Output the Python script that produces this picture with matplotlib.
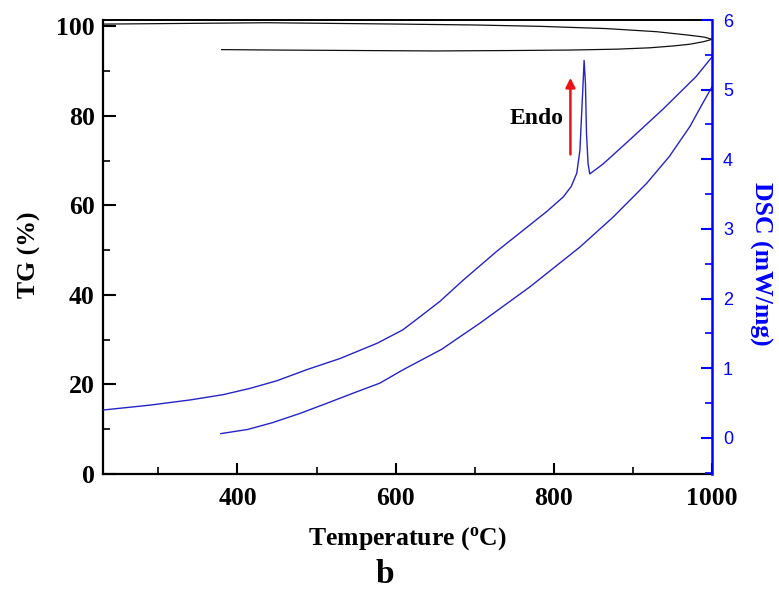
import matplotlib
matplotlib.use("Agg")
import matplotlib.pyplot as plt
from matplotlib.ticker import MultipleLocator

# ---------- data ----------
# TG, heating run (%)
tg_heat_t = [230, 300, 438, 605, 700, 782, 866, 930, 972, 990, 1000]
tg_heat_v = [100.5, 100.6, 100.8, 100.5, 100.3, 100.0, 99.5, 98.8, 98.0, 97.6, 97.1]
# TG, cooling run (%)
tg_cool_t = [1000, 990, 972, 950, 921, 880, 820, 750, 650, 550, 450, 380]
tg_cool_v = [97.1, 96.6, 96.0, 95.6, 95.2, 94.9, 94.7, 94.6, 94.5, 94.6, 94.7, 94.8]

# DSC, heating run (mW/mg)
dsc_heat_t = [231, 290, 341, 382, 416, 450, 488, 530, 577, 609, 631, 656, 686,
              728, 770, 791, 812, 822, 829, 833, 835, 837, 838.3, 840, 841.3, 843.3, 845.4,
              862, 896, 938, 980, 1000]
dsc_heat_v = [0.40, 0.47, 0.545, 0.62, 0.71, 0.82, 0.98, 1.14, 1.36, 1.55, 1.74, 1.96, 2.27,
              2.68, 3.06, 3.25, 3.46, 3.61, 3.80, 4.13, 4.61, 5.09, 5.42, 5.09, 4.37, 3.94, 3.79,
              3.93, 4.28, 4.72, 5.19, 5.47]
# DSC, cooling run (mW/mg)
dsc_cool_t = [1000, 988, 972, 946, 917, 875, 833, 770, 707, 658, 609, 580, 546,
              514, 479, 445, 413, 379]
dsc_cool_v = [5.04, 4.80, 4.47, 4.04, 3.65, 3.17, 2.74, 2.17, 1.65, 1.27, 0.975, 0.785, 0.64,
              0.50, 0.35, 0.22, 0.12, 0.06]

x_ticks = [400, 600, 800, 1000]
tg_ticks = [0, 20, 40, 60, 80, 100]
dsc_ticks = [0, 1, 2, 3, 4, 5, 6]

# ---------- style ----------
SERIF = ["Liberation Serif", "DejaVu Serif"]
SANS = ["Liberation Sans", "DejaVu Sans"]
BLUE = "#0000ff"
LINE_BLUE = "#2424c8"

fig = plt.figure(figsize=(7.79, 5.90), dpi=100)
ax = fig.add_axes([0.1322, 0.1966, 0.914 - 0.1322, 0.966 - 0.1966])

ax.plot(tg_heat_t, tg_heat_v, color="#111111", lw=0.9)
ax.plot(tg_cool_t, tg_cool_v, color="#111111", lw=0.9)

ax.set_xlim(230, 1000)
ax.set_ylim(0, 101.4)
ax.set_xticks(x_ticks)
ax.set_yticks(tg_ticks)
ax.xaxis.set_minor_locator(MultipleLocator(100))
ax.yaxis.set_minor_locator(MultipleLocator(10))
ax.tick_params(which="major", direction="in", length=8, width=1.5, top=False, right=False)
ax.tick_params(which="minor", direction="in", length=5, width=1.2, top=False, right=False)
ax.tick_params(axis="y", which="major", length=9)
for lab in ax.get_xticklabels() + ax.get_yticklabels():
    lab.set_family(SERIF)
    lab.set_fontweight("bold")
    lab.set_fontsize(18.5)
ax.tick_params(axis="x", pad=9)
ax.tick_params(axis="y", pad=6)
for s in ["left", "bottom"]:
    ax.spines[s].set_linewidth(1.6)
ax.spines["top"].set_linewidth(1.4)
ax.spines["right"].set_visible(False)

ax.set_xlabel("Temperature ($\\mathregular{^o}$C)", family=SERIF, fontweight="bold",
              fontsize=18.5, labelpad=11)
ax.set_ylabel("TG (%)", family=SERIF, fontweight="bold", fontsize=18.5,
              ha="center", va="center")
ax.yaxis.set_label_coords(-0.12, 0.482)

# DSC on the right axis
ax2 = ax.twinx()
ax2.plot(dsc_heat_t, dsc_heat_v, color=LINE_BLUE, lw=1.0)
ax2.plot(dsc_cool_t, dsc_cool_v, color=LINE_BLUE, lw=1.0)
ax2.set_ylim(-0.52, 6)
ax2.set_yticks(dsc_ticks)
ax2.yaxis.set_minor_locator(MultipleLocator(0.5))
ax2.tick_params(axis="y", which="major", direction="in", length=8, width=1.5, colors=BLUE, pad=8)
ax2.tick_params(axis="y", which="minor", direction="in", length=5, width=1.2, colors=BLUE)
for lab in ax2.get_yticklabels():
    lab.set_family(SANS)
    lab.set_fontsize(13)
ax2.spines["right"].set_color(BLUE)
ax2.spines["right"].set_linewidth(1.8)
for s in ["left", "bottom", "top"]:
    ax2.spines[s].set_visible(False)
ax2.set_ylabel("DSC (mW/mg)", family=SERIF, fontweight="bold", fontsize=18.5, color=BLUE,
               rotation=-90, ha="center", va="center")
ax2.yaxis.set_label_coords(1.079, 0.4626)

# endothermic direction arrow
ax.annotate("", xy=(821, 88.5), xytext=(821, 71.4),
            arrowprops=dict(arrowstyle="-|>", color="#ee1111", lw=1.8,
                            mutation_scale=14, shrinkA=0, shrinkB=0))
ax.text(812, 79.5, "Endo", family=SERIF, fontweight="bold", fontsize=17,
        ha="right", va="center")

fig.text(0.494, 0.012, "b", family=SERIF, fontweight="bold", fontsize=24,
         ha="center", va="baseline")

fig.savefig("out.png", dpi=100, facecolor="white")
